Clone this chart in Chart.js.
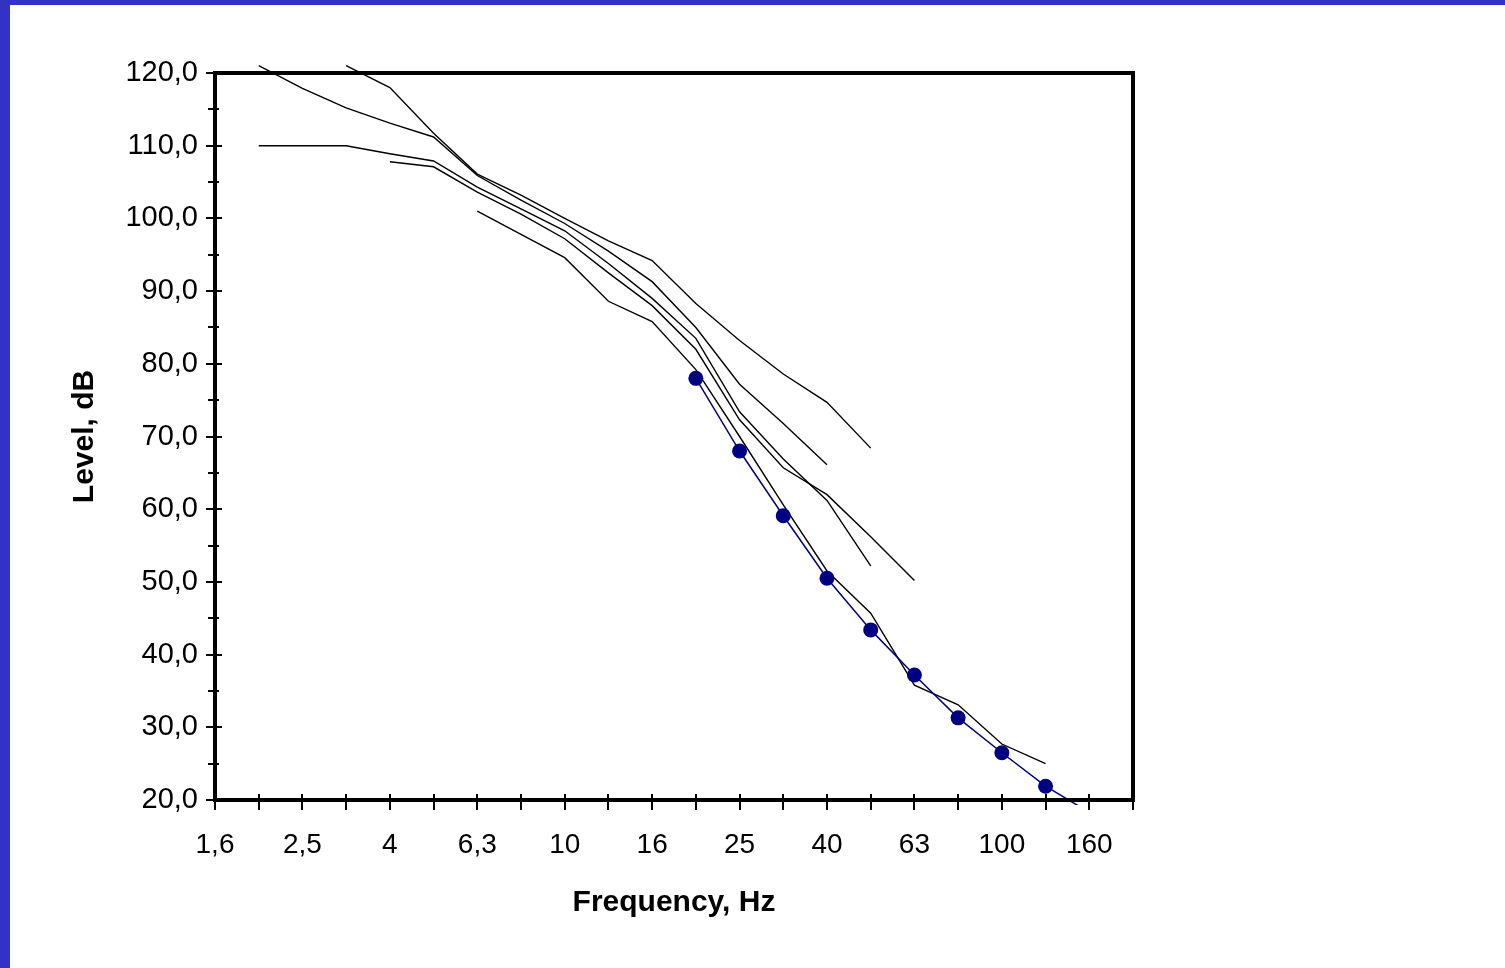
<!DOCTYPE html>
<html><head><meta charset="utf-8">
<script src="https://cdn.jsdelivr.net/npm/chart.js@4.4.1/dist/chart.umd.min.js"></script>
<style>
html,body{margin:0;padding:0;background:#fff;overflow:hidden;}
#wrap{position:absolute;left:0;top:0;width:1505px;height:968px;}
.bl{position:absolute;left:0;top:0;width:10px;height:968px;background:#3232c8;}
.bt{position:absolute;left:0;top:0;width:1505px;height:5px;background:#3232c8;}
</style></head><body>
<div id="wrap"><canvas id="c" width="1505" height="968"></canvas></div>
<div class="bl"></div><div class="bt"></div>
<script>
const categories = ['1,6','2','2,5','3,15','4','5','6,3','8','10','12,5','16','20','25','31,5','40','50','63','80','100','125','160','200'];
const tickLabels = ['1,6','2,5','4','6,3','10','16','25','40','63','100','160'];
const yTicksMajor = [20,30,40,50,60,70,80,90,100,110,120];
const yTicksMinor = [25,35,45,55,65,75,85,95,105,115];
const _ = null;
//                    1,6  2    2,5   3,15  4     5     6,3   8     10    12,5  16    20    25    31,5  40    50    63    80    100   125   160   200
const curve1 =      [_,   _,   _,    121,  118,  111.7,106.1,103.2,100,  96.9, 94.2, 88.3, 83.2, 78.6, 74.7, 68.4, _,    _,    _,    _,    _,    _];
const curve2 =      [_,   121, 117.9,115.2,113.1,111.2,105.9,102.5,99.3, 95.5, 91.3, 85,   77.2, 71.8, 66.1, _,    _,    _,    _,    _,    _,    _];
const curve3 =      [_,   110, 110,  110,  108.9,107.9,104.3,101.3,98.3, 93.8, 89,   83.5, 73.4, 66.9, 61.2, 52.2, _,    _,    _,    _,    _,    _];
const curve4 =      [_,   _,   _,    _,    107.8,107.1,103.6,100.6,97.2, 92.5, 88,   82,   72.3, 65.7, 62,   56.2, 50.2, _,    _,    _,    _,    _];
const curve5 =      [_,   _,   _,    _,    _,    _,    101,  97.8, 94.6, 88.6, 85.8, 79.2, 70,   60.6, 51.5, 45.7, 35.8, 33.1, 27.7, 25,   _,    _];
const measured =    [_,   _,   _,    _,    _,    _,    _,    _,    _,    _,    _,    78,   68,   59.1, 50.5, 43.4, 37.2, 31.3, 26.5, 21.9, 18.3, _];

const FONT = "'Liberation Sans', Arial, sans-serif";
const clip = {left:0, top:8, right:0, bottom:5};
function blackLine(d){
  return {data:d, borderColor:'#000', borderWidth:1.4, pointRadius:0, tension:0, fill:false, clip:clip};
}

const framePlugin = {
  id:'frame',
  afterDraw(chart){
    const {ctx, chartArea:a, scales:{x, y}} = chart;
    ctx.save();
    ctx.strokeStyle = '#000';
    ctx.lineWidth = 2;
    yTicksMajor.forEach(v => {
      const py = Math.round(y.getPixelForValue(v));
      ctx.beginPath(); ctx.moveTo(a.left, py); ctx.lineTo(a.left + 7, py); ctx.stroke();
    });
    yTicksMinor.forEach(v => {
      const py = Math.round(y.getPixelForValue(v));
      ctx.beginPath(); ctx.moveTo(a.left - 7, py); ctx.lineTo(a.left + 4, py); ctx.stroke();
    });
    categories.forEach((c, i) => {
      const px = Math.round(x.getPixelForValue(i));
      ctx.beginPath(); ctx.moveTo(px, a.bottom); ctx.lineTo(px, a.bottom - 6); ctx.stroke();
    });
    ctx.lineWidth = 4;
    ctx.strokeRect(a.left, a.top, a.right - a.left, a.bottom - a.top);
    ctx.restore();
  }
};

new Chart(document.getElementById('c'), {
  type:'line',
  data:{
    labels:categories,
    datasets:[
      {data:measured, borderColor:'#000080', borderWidth:1.5, pointStyle:'circle',
       pointRadius:(c)=> (c.raw!=null && c.raw<20) ? 0 : 7.5,
       pointBackgroundColor:'#000080', pointBorderColor:'#000080', pointBorderWidth:0, tension:0, clip:clip},
      blackLine(curve1), blackLine(curve2), blackLine(curve3), blackLine(curve4), blackLine(curve5)
    ]
  },
  options:{
    responsive:false, animation:false, events:[],
    layout:{padding:{left:40, top:73, right:372, bottom:38}},
    plugins:{legend:{display:false}, tooltip:{enabled:false}},
    scales:{
      x:{
        type:'category', offset:false,
        border:{display:false},
        grid:{drawOnChartArea:false, drawTicks:true, tickLength:10, color:'#000', lineWidth:2},
        ticks:{autoSkip:false, maxRotation:0, minRotation:0, padding:18, color:'#000',
               font:{family:FONT, size:28},
               callback:(v,i)=> tickLabels.includes(categories[i]) ? categories[i] : ''},
        title:{display:true, text:'Frequency, Hz', color:'#000', font:{family:FONT, size:30, weight:'bold'}, padding:{top:0, bottom:9}},
        afterFit:(s)=>{ s.height = 130; }
      },
      y:{
        min:20, max:120,
        border:{display:false},
        grid:{drawOnChartArea:false, drawTicks:true, tickLength:9, color:'#000', lineWidth:2},
        ticks:{stepSize:10, padding:8, color:'#000', font:{family:FONT, size:29},
               callback:(v)=> yTicksMajor.includes(v) ? v.toFixed(1).replace('.', ',') : ''},
        title:{display:true, text:'Level, dB', color:'#000', font:{family:FONT, size:30, weight:'bold'}, padding:{top:27, bottom:0}},
        afterFit:(s)=>{ s.width = 175; }
      }
    }
  },
  plugins:[framePlugin]
});
</script>
</body></html>
